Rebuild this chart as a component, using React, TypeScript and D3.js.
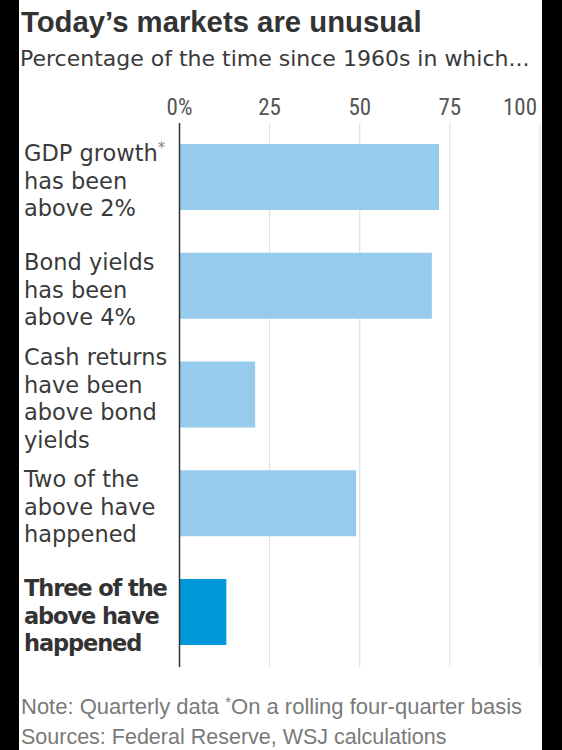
import React from "react";
import * as d3 from "d3";

const title = "Today’s markets are unusual";
const subtitle = "Percentage of the time since 1960s in which...";
const categoryLines: string[][] = [
  ["GDP growth", "has been", "above 2%"],
  ["Bond yields", "has been", "above 4%"],
  ["Cash returns", "have been", "above bond", "yields"],
  ["Two of the", "above have", "happened"],
  ["Three of the", "above have", "happened"],
];
const categoryKeys = ["gdp", "bond", "cash", "two", "three"];
const values = [72, 70, 21, 49, 13];
const highlighted = [false, false, false, false, true];
const footnoteMark = [true, false, false, false, false];
const tickValues = [0, 25, 50, 75, 100];
const tickLabels = ["0%", "25", "50", "75", "100"];
const noteText = "Note: Quarterly data ";
const noteStar = "*";
const noteRest = "On a rolling four-quarter basis";
const sourceText = "Sources: Federal Reserve, WSJ calculations";

const W = 562;
const H = 750;

export default function App() {
  const x = d3.scaleLinear().domain([0, 100]).range([179.5, 540]);
  const y = d3
    .scaleBand<string>()
    .domain(categoryKeys)
    .range([144, 645])
    .paddingInner(0.393)
    .paddingOuter(0);
  const gridTop = 123;
  const gridBottom = 667;
  const lineH = 27.5;
  const sans = "'DejaVu Sans', sans-serif";

  return (
    <svg
      width={W}
      height={H}
      style={{ position: "absolute", left: 0, top: 0, display: "block", background: "#fff" }}
    >
      <rect x={0} y={0} width={W} height={H} fill="#fff" />
      <text x={21} y={31.5} fontFamily="'Liberation Sans', Arial, sans-serif" fontWeight={700} fontSize={29.3} fill="#333">
        {title}
      </text>
      <text x={20} y={65.5} fontFamily={sans} fontSize={22} fill="#3a3a3a">
        {subtitle}
      </text>

      {tickValues.map((t, i) => (
        <g key={"g" + t}>
          {t !== 0 && (
            <line x1={x(t)} x2={x(t)} y1={gridTop} y2={gridBottom} stroke="#dcdcdc" strokeWidth={1} />
          )}
          <text
            x={i === tickValues.length - 1 ? x(t) - 3 : x(t)}
            y={114.5}
            textAnchor={i === tickValues.length - 1 ? "end" : "middle"}
            fontFamily="'Liberation Sans Narrow', 'Roboto Condensed', Roboto, sans-serif"
            fontSize={23}
            fill="#555"
          >
            {tickLabels[i]}
          </text>
        </g>
      ))}

      {categoryKeys.map((k, i) => {
        const y0 = y(k) as number;
        const bw = y.bandwidth();
        const lines = categoryLines[i];
        const n = lines.length;
        const center = y0 + bw / 2;
        const firstBase = center + 3.5 - ((n - 1) * lineH - 16.5) / 2;
        const bold = highlighted[i];
        return (
          <g key={k}>
            <rect
              x={x(0)}
              y={y0}
              width={x(values[i]) - x(0)}
              height={bw}
              fill={bold ? "#0098da" : "#97cbee"}
            />
            <text
              fontFamily={sans}
              fontSize={22.5}
              fontWeight={bold ? 700 : 400}
              letterSpacing={bold ? -1.1 : 0}
              fill={bold ? "#333" : "#3a3a3a"}
            >
              {lines.map((ln, j) => (
                <tspan key={j} x={24} y={firstBase + j * lineH}>
                  {ln}
                  {j === 0 && footnoteMark[i] ? (
                    <tspan fontSize={15} dy={-8} fill="#888">
                      *
                    </tspan>
                  ) : null}
                </tspan>
              ))}
            </text>
          </g>
        );
      })}

      <line x1={x(0)} x2={x(0)} y1={gridTop} y2={gridBottom} stroke="#333" strokeWidth={1.5} />

      <text x={21} y={713.5} fontFamily="'Liberation Sans', Arial, sans-serif" fontSize={22} fill="#7a7a7a">
        {noteText}
        <tspan fontSize={15} dy={-7}>
          {noteStar}
        </tspan>
        <tspan dy={7}>{noteRest}</tspan>
      </text>
      <text x={21} y={743.5} fontFamily="'Liberation Sans', Arial, sans-serif" fontSize={21.5} fill="#7a7a7a">
        {sourceText}
      </text>

      <rect x={0} y={0} width={19} height={H} fill="#000" />
      <rect x={542} y={0} width={W - 542} height={H} fill="#000" />
    </svg>
  );
}
